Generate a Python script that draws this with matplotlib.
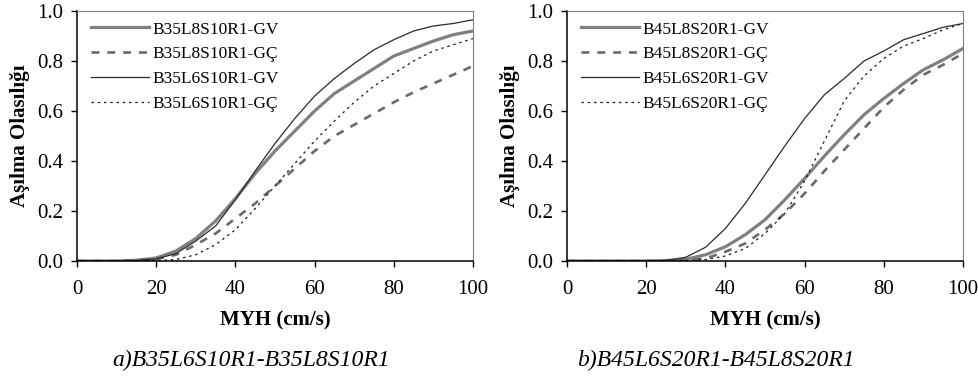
import numpy as np
import matplotlib
matplotlib.use("Agg")
import matplotlib.pyplot as plt

plt.rcParams["font.family"] = ["Liberation Serif", "DejaVu Serif"]

# MYH (cm/s)
myh = [0, 5, 10, 15, 20, 25, 30, 35, 40, 45, 50, 55, 60, 65, 70, 75, 80, 85, 90, 95, 100]

# a) B35 series
b35l8_gv = [0, 0, 0, 0.003, 0.012, 0.04, 0.09, 0.16, 0.25, 0.35, 0.44, 0.52, 0.60, 0.67, 0.72, 0.77, 0.82, 0.85, 0.88, 0.905, 0.92]
b35l8_gc = [0, 0, 0, 0.003, 0.008, 0.025, 0.065, 0.11, 0.17, 0.23, 0.30, 0.37, 0.44, 0.50, 0.545, 0.59, 0.635, 0.675, 0.71, 0.745, 0.78]
b35l6_gv = [0, 0, 0, 0.002, 0.008, 0.03, 0.08, 0.14, 0.245, 0.36, 0.47, 0.57, 0.66, 0.73, 0.79, 0.845, 0.885, 0.92, 0.94, 0.95, 0.965]
b35l6_gc = [0, 0, 0, 0, 0.002, 0.006, 0.025, 0.065, 0.125, 0.21, 0.30, 0.39, 0.48, 0.56, 0.635, 0.70, 0.75, 0.80, 0.84, 0.865, 0.89]

# b) B45 series
b45l8_gv = [0, 0, 0, 0, 0, 0.002, 0.007, 0.025, 0.057, 0.105, 0.165, 0.245, 0.33, 0.42, 0.505, 0.585, 0.65, 0.71, 0.765, 0.805, 0.85]
b45l8_gc = [0, 0, 0, 0, 0, 0, 0.003, 0.01, 0.037, 0.07, 0.125, 0.19, 0.27, 0.36, 0.445, 0.53, 0.615, 0.685, 0.745, 0.785, 0.83]
b45l6_gv = [0, 0, 0, 0, 0, 0.002, 0.015, 0.055, 0.13, 0.23, 0.345, 0.46, 0.57, 0.665, 0.73, 0.80, 0.84, 0.885, 0.91, 0.935, 0.95]
b45l6_gc = [0, 0, 0, 0, 0, 0, 0.002, 0.006, 0.02, 0.05, 0.11, 0.19, 0.32, 0.48, 0.64, 0.74, 0.81, 0.86, 0.89, 0.925, 0.95]

panels = [
    ("B35L8S10R1", "B35L6S10R1", b35l8_gv, b35l8_gc, b35l6_gv, b35l6_gc,
     "a)B35L6S10R1-B35L8S10R1"),
    ("B45L8S20R1", "B45L6S20R1", b45l8_gv, b45l8_gc, b45l6_gv, b45l6_gc,
     "b)B45L6S20R1-B45L8S20R1"),
]

W, H = 979, 376
fig = plt.figure(figsize=(W / 100, H / 100), dpi=100)

ax_lefts = [77, 567]
ax_w = 396
ax_top, ax_bot = 11, 261
caption_x = [251, 716]

for i, (n8, n6, gv8, gc8, gv6, gc6, caption) in enumerate(panels):
    ax = fig.add_axes([ax_lefts[i] / W, 1 - ax_bot / H, ax_w / W, (ax_bot - ax_top) / H])

    ax.plot(myh, gv8, color="#808080", lw=2.3, label=f"{n8}-GV")
    ax.plot(myh, gc8, color="#6a6a6a", lw=1.9, dashes=(3, 3), label=f"{n8}-GÇ")
    ax.plot(myh, gv6, color="#2a2a2a", lw=0.9, label=f"{n6}-GV")
    ax.plot(myh, gc6, color="#1a1a1a", lw=0.9, dashes=(2, 3), label=f"{n6}-GÇ")

    ax.set_xlim(0, 100)
    ax.set_ylim(0, 1.0)
    ax.set_xticks(np.arange(0, 101, 20))
    ax.set_yticks(np.arange(0, 1.01, 0.2))
    ax.set_yticklabels([f"{v:.1f}" for v in np.arange(0, 1.01, 0.2)])
    ax.tick_params(direction="out", length=4, width=1, labelsize=15)
    ax.tick_params(axis="x", pad=10)
    ax.tick_params(axis="y", pad=6)

    for s in ["left", "bottom"]:
        ax.spines[s].set_color("black")
        ax.spines[s].set_linewidth(1.1)
    for s in ["top", "right"]:
        ax.spines[s].set_color("#808080")
        ax.spines[s].set_linewidth(0.8)

    ax.set_xlabel("MYH (cm/s)", fontsize=15, fontweight="bold", labelpad=8)
    ax.set_ylabel("Aşılma Olasılığı", fontsize=15, fontweight="bold", labelpad=5)

    ax.legend(loc="upper left", frameon=False, fontsize=12.5, handlelength=3.3,
              handletextpad=0.2, labelspacing=0.5, borderaxespad=0.2,
              bbox_to_anchor=(0.01, 1.0))

    fig.text(caption_x[i] / W, 1 - 360 / H, caption, fontsize=17, style="italic",
             ha="center", va="center")

fig.savefig("out.png", dpi=100, facecolor="white")
